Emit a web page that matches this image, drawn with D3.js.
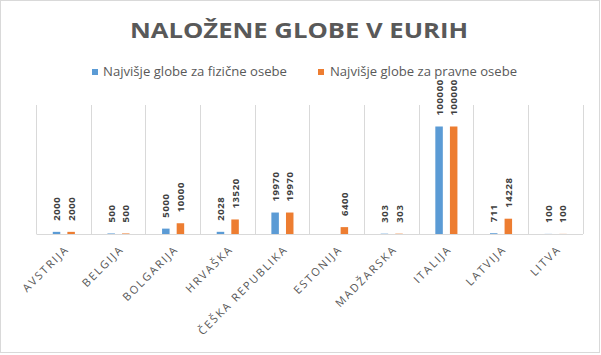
<!DOCTYPE html>
<html><head><meta charset="utf-8">
<script src="https://cdn.jsdelivr.net/npm/d3@7"></script>
<style>body{margin:0;background:#fff}svg{display:block}</style>
</head><body>
<script>
const title = "NALOŽENE GLOBE V EURIH";
const categories = ["AVSTRIJA","BELGIJA","BOLGARIJA","HRVAŠKA","ČEŠKA REPUBLIKA","ESTONIJA","MADŽARSKA","ITALIJA","LATVIJA","LITVA"];
const seriesNames = ["Najvišje globe za fizične osebe","Najvišje globe za pravne osebe"];
const fizicne = [2000, 500, 5000, 2028, 19970, null, 303, 100000, 711, 100];
const pravne  = [2000, 500, 10000, 13520, 19970, 6400, 303, 100000, 14228, 100];
const colors = ["#5b9bd5","#ed7d31"];

const W = 601, H = 355;
const svg = d3.select("body").append("svg").attr("width", W).attr("height", H);
svg.append("rect").attr("x",0.5).attr("y",0.5).attr("width",W-2).attr("height",H-3)
  .attr("fill","#fff").attr("stroke","#d9d9d9");

const m = {left:36.5, right:583, top:105, bottom:234};
const x = d3.scaleBand().domain(categories).range([m.left, m.right]).paddingInner(0).paddingOuter(0);
const y = d3.scaleLinear().domain([0,120000]).range([m.bottom, m.top]);

// vertical gridlines
const edges = categories.map(c => x(c)).concat([m.right]);
svg.append("g").selectAll("line").data(edges).join("line")
  .attr("x1", d=>d).attr("x2", d=>d).attr("y1", m.top).attr("y2", m.bottom)
  .attr("stroke","#d9d9d9").attr("stroke-width",1).attr("shape-rendering","crispEdges");

// title
svg.append("text").attr("x", 299).attr("y", 38).attr("text-anchor","middle")
  .attr("font-family","Open Sans, sans-serif").attr("font-weight","bold").attr("font-size",22)
  .attr("fill","#595959").attr("textLength",338).attr("lengthAdjust","spacingAndGlyphs").text(title);

// legend
const leg = [{x:92, tx:103, tw:184},{x:318, tx:330, tw:187}];
seriesNames.forEach((s,i)=>{
  svg.append("rect").attr("x",leg[i].x).attr("y",69).attr("width",6).attr("height",6).attr("fill",colors[i]);
  svg.append("text").attr("x",leg[i].tx).attr("y",76).attr("font-family","Open Sans, sans-serif")
    .attr("font-size",12.5).attr("fill","#595959").attr("textLength",leg[i].tw).attr("lengthAdjust","spacingAndGlyphs").text(s);
});

const data = [fizicne, pravne];
const cx = (c,i) => x(c) + x.bandwidth()/2 + (i===0 ? -7.3 : 7.3);
data.forEach((arr,i)=>{
  const g = svg.append("g");
  const pts = categories.map((c,j)=>({c, v:arr[j]})).filter(d=>d.v!=null);
  g.selectAll("rect").data(pts).join("rect")
    .attr("x", d=>cx(d.c,i)-3.75).attr("width",7.5)
    .attr("y", d=>y(d.v)).attr("height", d=>m.bottom - y(d.v)).attr("fill", colors[i]);
  g.selectAll("text").data(pts).join("text")
    .attr("transform", d=>`translate(${cx(d.c,i)+3.5},${y(d.v)-11}) rotate(-90)`)
    .attr("font-family","Open Sans, sans-serif").attr("font-size",9.5).attr("font-weight","bold")
    .attr("fill","#404040").attr("letter-spacing",0.6).text(d=>d.v);
});

// baseline
svg.append("line").attr("x1",m.left).attr("x2",m.right).attr("y1",m.bottom+0.5).attr("y2",m.bottom+0.5)
  .attr("stroke","#d9d9d9");

// x labels
svg.append("g").selectAll("text").data(categories).join("text")
  .attr("transform", c=>`translate(${x(c)+x.bandwidth()/2+6},${m.bottom+16}) rotate(-45)`)
  .attr("text-anchor","end").attr("font-family","Open Sans, sans-serif").attr("font-size",11)
  .attr("letter-spacing",1.9).attr("fill","#595959").text(c=>c);
</script>
</body></html>
